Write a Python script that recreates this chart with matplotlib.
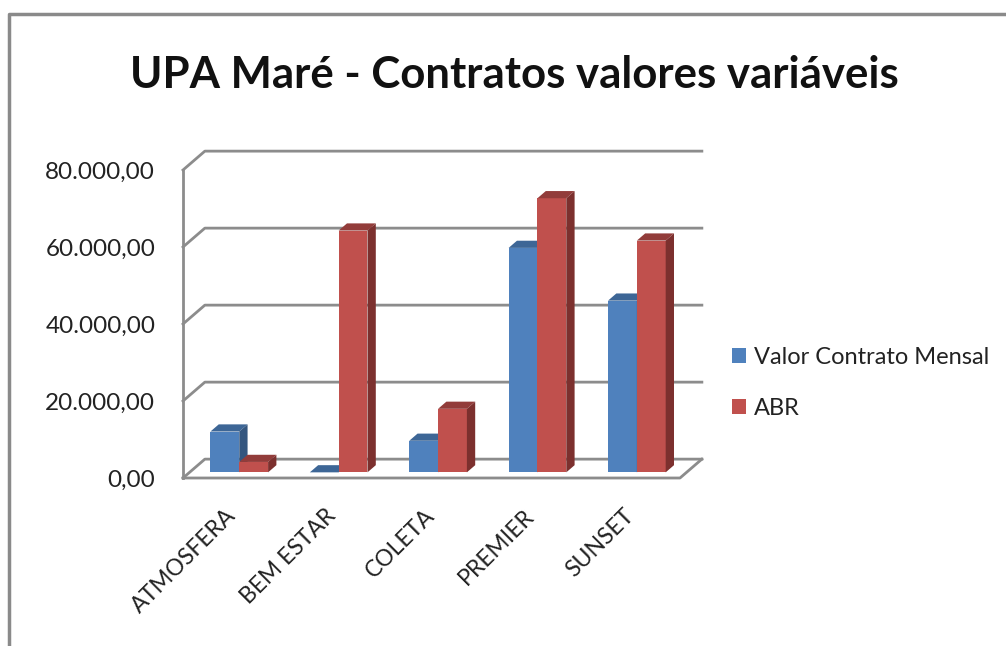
import matplotlib
matplotlib.use("Agg")
import matplotlib.pyplot as plt
from matplotlib.patches import Polygon, Patch
from matplotlib.lines import Line2D

# data
categories = ['ATMOSFERA', 'BEM ESTAR', 'COLETA', 'PREMIER', 'SUNSET']
valor_mensal = [10600, 0, 8200, 58300, 44600]
abr = [2700, 62800, 16500, 71200, 60200]
yticks = [0, 20000, 40000, 60000, 80000]
series_names = ['Valor Contrato Mensal', 'ABR']

plt.rcParams['font.family'] = ['Lato', 'DejaVu Sans']

W, H = 1006, 646
fig = plt.figure(figsize=(W / 100, H / 100), dpi=100)

# oblique "3D" depth offsets (x in category slots, y in value units)
DX = 0.22
DY = 4900
slot_px = (680 - 183) / 5
px_per_val = 308 / 80000
z0 = 0.30      # depth where the bars stand
bd = 0.38      # bar depth
w = 0.29       # bar width

ax_w = (5 + DX) * slot_px
ax_h = (80000 + DY) * px_per_val
ax = fig.add_axes([183 / W, (H - 478) / H, ax_w / W, ax_h / H])
ax.set_xlim(-0.5, 4.5 + DX)
ax.set_ylim(0, 80000 + DY)

grid_c = '#8c8c8c'
# back wall gridlines + left wall connectors
for t in yticks:
    ax.plot([-0.5, -0.5 + DX, 4.5 + DX], [t, t + DY, t + DY], color=grid_c, lw=2, clip_on=False, zorder=1)
# floor
ax.plot([-0.5, 4.5, 4.5 + DX], [0, 0, DY], color=grid_c, lw=2, clip_on=False, zorder=1)

front_c = ['#4f81bd', '#c0504d']
top_c = ['#3d6696', '#923c3a']
side_c = ['#34567f', '#7c302e']

x = list(range(len(categories)))
for k, vals in enumerate([valor_mensal, abr]):
    for i, v in enumerate(vals):
        x0 = x[i] + z0 * DX - w + k * w
        b = z0 * DY
        ax.bar(x0, v, width=w, bottom=b, align='edge', color=front_c[k], zorder=3 + i * 2 + k)
        top = [(x0, b + v), (x0 + w, b + v), (x0 + w + bd * DX, b + v + bd * DY), (x0 + bd * DX, b + v + bd * DY)]
        side = [(x0 + w, b), (x0 + w, b + v), (x0 + w + bd * DX, b + v + bd * DY), (x0 + w + bd * DX, b + bd * DY)]
        ax.add_patch(Polygon(top, closed=True, facecolor=top_c[k], edgecolor='none', zorder=3 + i * 2 + k))
        ax.add_patch(Polygon(side, closed=True, facecolor=side_c[k], edgecolor='none', zorder=3 + i * 2 + k))

for s in ['top', 'right', 'bottom']:
    ax.spines[s].set_visible(False)
ax.spines['left'].set_bounds(0, 80000)
ax.spines['left'].set_color(grid_c)
ax.spines['left'].set_linewidth(2)

ax.set_yticks(yticks)
ax.set_yticklabels([f'{t:,.2f}'.replace(',', 'X').replace('.', ',').replace('X', '.') for t in yticks])
ax.tick_params(axis='y', length=0, pad=20, labelsize=17.5, labelcolor='#222222')
ax.set_xticks(x)
ax.set_xticklabels(categories, rotation=45, ha='right', va='center', rotation_mode='anchor')
ax.tick_params(axis='x', length=0, pad=25, labelsize=16.5, labelcolor='#222222')

fig.text(514 / W, 1 - 75 / H, 'UPA Maré - Contratos valores variáveis', ha='center', va='center',
         fontsize=31.5, fontweight='bold', color='#111111')

handles = [Patch(facecolor=front_c[0]), Patch(facecolor=front_c[1])]
fig.legend(handles, series_names, loc='center left', bbox_to_anchor=(711 / W, 1 - 383 / H),
           frameon=False, fontsize=17, labelspacing=1.25, handlelength=0.6, handleheight=0.6,
           handletextpad=0.3, labelcolor='#222222')

# chart area border (cropped at right and bottom)
fig.add_artist(Line2D([9 / W, 9 / W, 1], [0, 1 - 14 / H, 1 - 14 / H], color='#8a8a8a', lw=2.5,
                      transform=fig.transFigure))

fig.savefig('out.png', dpi=100)
